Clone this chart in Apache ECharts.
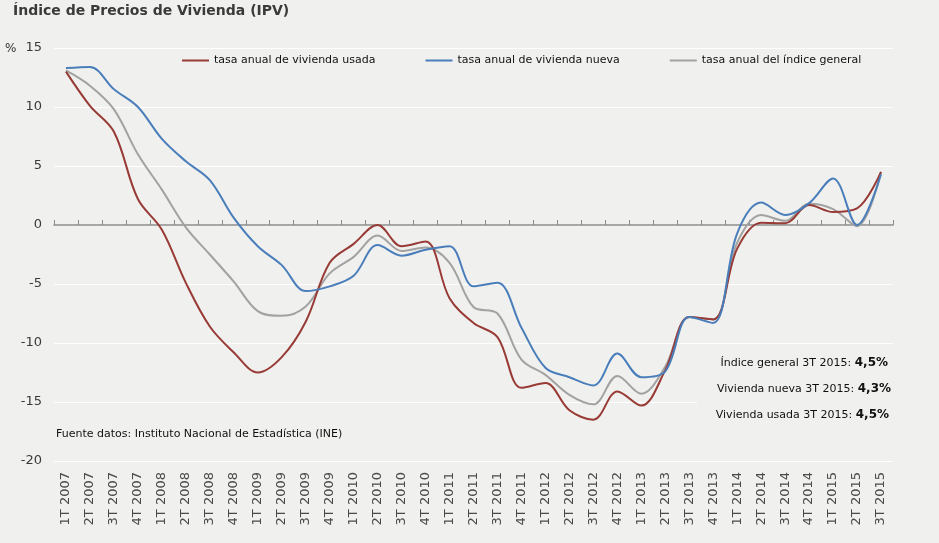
<!DOCTYPE html>
<html>
<head>
<meta charset="utf-8">
<script src="https://cdn.jsdelivr.net/npm/echarts@6/dist/echarts.min.js"></script>
<style>
  html, body { margin: 0; padding: 0; background: #f0f1ee; }
  #chart { width: 939px; height: 543px; }
</style>
</head>
<body>
<div id="chart"></div>
<script>
// trimestres 1T 2007 - 3T 2015
var quarters = [];
for (var y = 2007; y <= 2015; y++) {
  for (var q = 1; q <= 4; q++) {
    if (y === 2015 && q > 3) break;
    quarters.push(q + 'T ' + y);
  }
}

// tasa anual de vivienda usada
var usada = [13.0, 10.1, 7.9, 2.2, -0.4, -4.9, -8.6, -10.8, -12.5, -11.2, -8.2, -3.2,
  -1.6, 0.0, -1.8, -1.4, -6.2, -8.3, -9.5, -13.8, -13.4, -15.7, -16.5, -14.1,
  -15.3, -12.3, -7.8, -8.0, -2.0, 0.2, 0.15, 1.7, 1.1, 1.4, 4.5];
// tasa anual de vivienda nueva
var nueva = [13.3, 13.4, 11.5, 10.0, 7.3, 5.4, 3.8, 0.6, -1.8, -3.4, -5.6, -5.2,
  -4.3, -1.7, -2.6, -2.1, -1.8, -5.2, -4.9, -8.7, -12.1, -12.9, -13.6, -10.9,
  -12.9, -12.4, -7.8, -8.3, -0.7, 1.9, 0.85, 1.85, 3.95, 0.0, 4.3];
// tasa anual del indice general
var general = [13.1, 11.8, 9.8, 6.0, 3.0, -0.2, -2.5, -4.8, -7.3, -7.7, -6.9, -4.1,
  -2.7, -0.9, -2.2, -1.9, -3.2, -6.95, -7.5, -11.4, -12.7, -14.4, -15.2, -12.8,
  -14.3, -12.0, -7.8, -8.0, -1.5, 0.85, 0.35, 1.8, 1.35, -0.1, 4.5];

var yTicks = [-20, -15, -10, -5, 0, 5, 10, 15];

var fontFam = '"DejaVu Sans", Verdana, sans-serif';
var bg = '#f0f1ee';

var chart = echarts.init(document.getElementById('chart'));

var option = {
  backgroundColor: bg,
  animation: false,
  title: {
    text: 'Índice de Precios de Vivienda (IPV)',
    left: 8,
    top: -1,
    textStyle: { fontFamily: fontFam, fontSize: 14, fontWeight: 'bold', color: '#3a3a3a' }
  },
  legend: {
    top: 50,
    left: 177,
    icon: 'rect',
    itemWidth: 27,
    itemHeight: 2,
    itemGap: 50,
    textStyle: { fontFamily: fontFam, fontSize: 11, color: '#111' },
    data: ['tasa anual de vivienda usada', 'tasa anual de vivienda nueva', 'tasa anual del índice general']
  },
  grid: { left: 54, right: 46, top: 48, bottom: 82 },
  xAxis: [{
    type: 'category',
    data: quarters,
    boundaryGap: true,
    position: 'bottom',
    axisLine: { show: false, onZero: false },
    axisTick: { show: false },
    axisLabel: {
      rotate: 90, interval: 0, margin: 11,
      fontFamily: fontFam, fontSize: 13, color: '#4a4a4a'
    },
    splitLine: { show: false }
  }, {
    type: 'category',
    data: quarters,
    boundaryGap: true,
    position: 'bottom',
    axisLine: { show: true, onZero: true, lineStyle: { color: '#8c8c8c', width: 1.5 } },
    axisTick: { show: true, inside: true, length: 5, interval: 0, lineStyle: { color: '#8c8c8c' } },
    axisLabel: { show: false },
    splitLine: { show: false }
  }],
  yAxis: {
    type: 'value',
    min: -20,
    max: 15,
    interval: 5,
    axisLine: { show: false },
    axisTick: { show: false },
    axisLabel: {
      margin: 12, fontFamily: fontFam, fontSize: 13, color: '#3a3a3a',
      formatter: function (v) { return yTicks.indexOf(v) >= 0 ? String(v) : ''; }
    },
    splitLine: { show: true, lineStyle: { color: '#ffffff', width: 1.2 } }
  },
  series: [{
    name: 'tasa anual de vivienda usada',
    type: 'line',
    data: usada,
    smooth: 0.35,
    symbol: 'none',
    z: 3,
    itemStyle: { color: '#983a36' },
    lineStyle: { color: '#983a36', width: 2 }
  }, {
    name: 'tasa anual de vivienda nueva',
    type: 'line',
    data: nueva,
    smooth: 0.35,
    symbol: 'none',
    z: 4,
    itemStyle: { color: '#4a7ebb' },
    lineStyle: { color: '#4a7ebb', width: 2 }
  }, {
    name: 'tasa anual del índice general',
    type: 'line',
    data: general,
    smooth: 0.35,
    symbol: 'none',
    z: 2,
    itemStyle: { color: '#a2a2a2' },
    lineStyle: { color: '#a2a2a2', width: 2 }
  }],
  graphic: [{
    type: 'text',
    left: 5,
    top: 43,
    style: { text: '%', font: '12px ' + fontFam, fill: '#333' }
  }, {
    type: 'rect',
    left: 697,
    top: 350,
    shape: { width: 200, height: 80 },
    style: { fill: bg },
    z: 10
  }, {
    type: 'text',
    left: 56,
    top: 429,
    style: {
      text: 'Fuente datos: Instituto Nacional de Estadística (INE)',
      font: '11px ' + fontFam,
      fill: '#111'
    },
    z: 11
  }, {
    type: 'text',
    right: 51,
    top: 357,
    style: {
      text: 'Índice general 3T 2015: {b|4,5%}',
      rich: { b: { fontWeight: 'bold', fontSize: 12, fontFamily: fontFam, fill: '#111' } },
      font: '11px ' + fontFam,
      fill: '#111'
    },
    z: 11
  }, {
    type: 'text',
    right: 48,
    top: 383,
    style: {
      text: 'Vivienda nueva 3T 2015: {b|4,3%}',
      rich: { b: { fontWeight: 'bold', fontSize: 12, fontFamily: fontFam, fill: '#111' } },
      font: '11px ' + fontFam,
      fill: '#111'
    },
    z: 11
  }, {
    type: 'text',
    right: 50,
    top: 409,
    style: {
      text: 'Vivienda usada 3T 2015: {b|4,5%}',
      rich: { b: { fontWeight: 'bold', fontSize: 12, fontFamily: fontFam, fill: '#111' } },
      font: '11px ' + fontFam,
      fill: '#111'
    },
    z: 11
  }]
};

chart.setOption(option);
</script>
</body>
</html>
